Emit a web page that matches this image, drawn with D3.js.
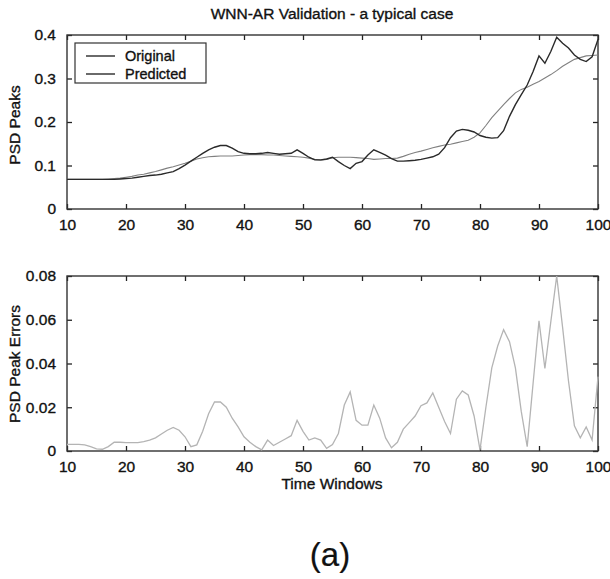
<!DOCTYPE html>
<html><head><meta charset="utf-8">
<script src="https://cdn.jsdelivr.net/npm/d3@7"></script>
<style>
html,body{margin:0;padding:0;background:#fff;}
svg{display:block;font-family:"Liberation Sans",Arial,Helvetica,sans-serif;}
text{stroke:#111;stroke-width:0.35px;}
</style></head>
<body>
<svg id="chart" width="610" height="579"></svg>
<script>
// ---- data ----
const timeWindows = d3.range(10, 101);
const original = [
 0.068,0.068,0.068,0.068,0.068,0.068,0.068,0.068,0.068,0.069,0.070,
 0.071,0.073,0.075,0.077,0.078,0.080,0.083,0.086,0.093,0.101,
 0.110,0.119,0.128,0.136,0.142,0.146,0.146,0.140,0.132,0.128,
 0.127,0.127,0.128,0.130,0.128,0.126,0.127,0.128,0.136,0.128,
 0.119,0.113,0.113,0.115,0.119,0.109,0.100,0.093,0.105,0.109,
 0.124,0.136,0.130,0.124,0.116,0.110,0.110,0.111,0.112,0.114,
 0.117,0.120,0.126,0.141,0.164,0.179,0.183,0.181,0.177,0.169,
 0.165,0.163,0.164,0.180,0.213,0.240,0.263,0.285,0.316,0.352,
 0.335,0.362,0.395,0.381,0.370,0.354,0.344,0.339,0.350,0.390];
const predicted = [
 0.068,0.068,0.068,0.068,0.068,0.068,0.068,0.069,0.070,0.071,0.073,
 0.075,0.078,0.080,0.083,0.086,0.090,0.094,0.097,0.101,0.105,
 0.110,0.115,0.118,0.120,0.121,0.122,0.122,0.122,0.123,0.124,
 0.125,0.125,0.125,0.124,0.124,0.123,0.122,0.121,0.120,0.119,
 0.117,0.114,0.112,0.114,0.118,0.119,0.119,0.119,0.118,0.117,
 0.116,0.114,0.115,0.116,0.116,0.117,0.121,0.126,0.130,0.133,
 0.137,0.141,0.144,0.147,0.149,0.152,0.155,0.158,0.165,0.175,
 0.192,0.210,0.225,0.240,0.254,0.267,0.275,0.280,0.287,0.293,
 0.301,0.309,0.318,0.328,0.336,0.344,0.348,0.352,0.353,0.354];
const errors = [
 0.003,0.003,0.003,0.0028,0.002,0.001,0.0008,0.002,0.004,0.004,0.0038,
 0.0038,0.0038,0.0043,0.005,0.006,0.0078,0.0095,0.0108,0.0095,0.0065,
 0.002,0.0028,0.009,0.017,0.0224,0.0224,0.020,0.015,0.011,0.0065,
 0.004,0.002,0.0005,0.005,0.0025,0.004,0.0055,0.007,0.014,0.009,
 0.005,0.006,0.005,0.0012,0.003,0.008,0.021,0.027,0.014,0.0118,
 0.0118,0.021,0.015,0.006,0.0015,0.004,0.010,0.013,0.016,0.0207,
 0.022,0.0265,0.020,0.0135,0.008,0.0237,0.0275,0.0256,0.016,0.0005,
 0.020,0.038,0.048,0.0555,0.050,0.038,0.018,0.002,0.031,0.0595,
 0.0377,0.059,0.080,0.0565,0.032,0.0115,0.006,0.011,0.005,0.034];
const xTicks = [10,20,30,40,50,60,70,80,90,100];
const yTicksTop = [0,0.1,0.2,0.3,0.4];
const yTickLabelsTop = ["0","0.1","0.2","0.3","0.4"];
const yTicksBot = [0,0.02,0.04,0.06,0.08];
const yTickLabelsBot = ["0","0.02","0.04","0.06","0.08"];
const seriesNames = ["Original","Predicted"];

// ---- drawing ----
const svg = d3.select("#chart");
const L = 67, R = 598;
const x = d3.scaleLinear().domain([10,100]).range([L,R]);

function panel(top, bottom, yDomain, ticks, labels) {
  const y = d3.scaleLinear().domain(yDomain).range([bottom, top]);
  const g = svg.append("g");
  const fmt = d => labels[ticks.indexOf(d)];
  g.append("g").attr("transform",`translate(0,${bottom})`)
    .call(d3.axisBottom(x).tickValues(xTicks).tickSizeInner(-5).tickSizeOuter(0).tickPadding(10))
    .call(a=>a.select(".domain").remove());
  g.append("g").attr("transform",`translate(0,${top})`)
    .call(d3.axisTop(x).tickValues(xTicks).tickSizeInner(-5).tickSizeOuter(0).tickFormat(""))
    .call(a=>a.select(".domain").remove());
  g.append("g").attr("transform",`translate(${L},0)`)
    .call(d3.axisLeft(y).tickValues(ticks).tickFormat(fmt).tickSizeInner(-5).tickSizeOuter(0).tickPadding(11))
    .call(a=>a.select(".domain").remove());
  g.append("g").attr("transform",`translate(${R},0)`)
    .call(d3.axisRight(y).tickValues(ticks).tickFormat("").tickSizeInner(-5).tickSizeOuter(0))
    .call(a=>a.select(".domain").remove());
  g.selectAll(".tick line").attr("stroke","#222").attr("stroke-width",1.3);
  g.selectAll(".tick text").attr("font-size",15.5).attr("fill","#111")
    .attr("font-family","'Liberation Sans',Arial,sans-serif");
  g.append("rect").attr("x",L).attr("y",top).attr("width",R-L).attr("height",bottom-top)
    .attr("fill","none").attr("stroke","#333").attr("stroke-width",1.4);
  return y;
}

// top panel
const yTop = panel(35, 209, [0,0.4], yTicksTop, yTickLabelsTop);
const lineTop = d3.line().x((d,i)=>x(timeWindows[i])).y(d=>yTop(d));
svg.append("path").datum(predicted).attr("d",lineTop)
  .attr("fill","none").attr("stroke","#808080").attr("stroke-width",1.1);
svg.append("path").datum(original).attr("d",lineTop)
  .attr("fill","none").attr("stroke","#2a2a2a").attr("stroke-width",1.4);

// legend
const lg = svg.append("g");
lg.append("rect").attr("x",75).attr("y",43).attr("width",131).attr("height",40)
  .attr("fill","#fff").attr("stroke","#333").attr("stroke-width",1.2);
seriesNames.forEach((n,i)=>{
  const yy = 56 + i*18;
  lg.append("line").attr("x1",86).attr("x2",115).attr("y1",yy).attr("y2",yy)
    .attr("stroke","#2a2a2a").attr("stroke-width",1.4);
  lg.append("text").attr("x",125).attr("y",yy+5).attr("font-size",14.5).attr("fill","#111").text(n);
});

// title
svg.append("text").attr("x",332).attr("y",19).attr("text-anchor","middle")
  .attr("font-size",15.5).attr("fill","#111").text("WNN-AR Validation - a typical case");
// y label top
svg.append("text").attr("transform","translate(20,125) rotate(-90)").attr("text-anchor","middle")
  .attr("font-size",15.5).attr("fill","#111").text("PSD Peaks");

// bottom panel
const yBot = panel(276, 451, [0,0.08], yTicksBot, yTickLabelsBot);
const lineBot = d3.line().x((d,i)=>x(timeWindows[i])).y(d=>yBot(d));
svg.append("path").datum(errors).attr("d",lineBot)
  .attr("fill","none").attr("stroke","#b4b4b4").attr("stroke-width",1.3);
svg.append("text").attr("transform","translate(20,364) rotate(-90)").attr("text-anchor","middle")
  .attr("font-size",15.5).attr("fill","#111").text("PSD Peak Errors");
svg.append("text").attr("x",332).attr("y",489).attr("text-anchor","middle")
  .attr("font-size",15.5).attr("fill","#111").text("Time Windows");

// caption
svg.append("text").attr("x",330).attr("y",566).attr("text-anchor","middle")
  .attr("font-size",33).attr("fill","#111").style("stroke-width","0.2px").text("(a)");
</script>
</body></html>
